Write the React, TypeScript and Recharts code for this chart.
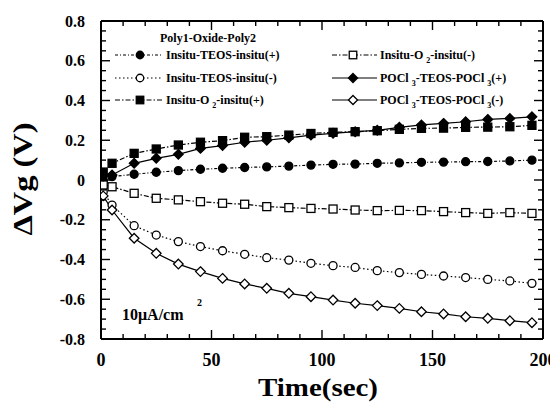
import React from 'react';
import { LineChart, Line, XAxis, YAxis, Legend } from 'recharts';

// ---- data ----
const timeSec = [1, 5, 15, 25, 35, 45, 55, 65, 75, 85, 95, 105, 115, 125, 135, 145, 155, 165, 175, 185, 195];
const insituTeosPlus = [0.0, 0.017, 0.029, 0.039, 0.047, 0.054, 0.059, 0.063, 0.066, 0.07, 0.075, 0.079, 0.08, 0.084, 0.086, 0.089, 0.09, 0.092, 0.093, 0.096, 0.1];
const insituTeosMinus = [-0.06, -0.126, -0.23, -0.277, -0.31, -0.335, -0.356, -0.374, -0.391, -0.403, -0.419, -0.431, -0.44, -0.456, -0.466, -0.475, -0.483, -0.491, -0.5, -0.508, -0.52];
const insituO2Plus = [0.04, 0.084, 0.134, 0.156, 0.176, 0.19, 0.198, 0.215, 0.218, 0.226, 0.234, 0.24, 0.243, 0.248, 0.255, 0.26, 0.261, 0.265, 0.266, 0.268, 0.275];
const insituO2Minus = [-0.025, -0.034, -0.067, -0.092, -0.1, -0.109, -0.117, -0.122, -0.134, -0.139, -0.143, -0.146, -0.151, -0.154, -0.153, -0.154, -0.159, -0.164, -0.168, -0.164, -0.168];
const pocl3Plus = [0.02, 0.025, 0.084, 0.109, 0.129, 0.159, 0.173, 0.19, 0.2, 0.212, 0.226, 0.235, 0.243, 0.25, 0.265, 0.277, 0.285, 0.293, 0.305, 0.31, 0.318];
const pocl3Minus = [-0.08, -0.151, -0.293, -0.369, -0.423, -0.461, -0.495, -0.523, -0.545, -0.57, -0.587, -0.604, -0.62, -0.632, -0.646, -0.663, -0.674, -0.688, -0.696, -0.708, -0.718];

const xTickValues = [0, 10, 20, 30, 40, 50, 60, 70, 80, 90, 100, 110, 120, 130, 140, 150, 160, 170, 180, 190, 200];
const xMajorTicks = [0, 50, 100, 150, 200];
const yTickValues = [-0.8, -0.75, -0.7, -0.65, -0.6, -0.55, -0.5, -0.45, -0.4, -0.35, -0.3, -0.25, -0.2, -0.15, -0.1, -0.05, 0, 0.05, 0.1, 0.15, 0.2, 0.25, 0.3, 0.35, 0.4, 0.45, 0.5, 0.55, 0.6, 0.65, 0.7, 0.75, 0.8];
const yMajorTicks = [-0.8, -0.6, -0.4, -0.2, 0, 0.2, 0.4, 0.6, 0.8];

const chartRows = timeSec.map((t, i) => ({
  t,
  teosPlus: insituTeosPlus[i],
  teosMinus: insituTeosMinus[i],
  o2Plus: insituO2Plus[i],
  o2Minus: insituO2Minus[i],
  pPlus: pocl3Plus[i],
  pMinus: pocl3Minus[i],
}));

const FONT = '"Liberation Serif", "Times New Roman", Times, serif';

type Shape = 'circle' | 'square' | 'diamond';

const Sub = ({ children }: { children: React.ReactNode }) => (
  <span style={{ fontSize: 8, position: 'relative', top: 4, marginLeft: 3 }}>{children}</span>
);

const SERIES: {
  key: string;
  label: React.ReactNode;
  shape: Shape;
  filled: boolean;
  dash?: string;
  col: number;
  row: number;
}[] = [
  { key: 'teosPlus', label: <>Insitu-TEOS-insitu(+)</>, shape: 'circle', filled: true, dash: '3 2 1 2', col: 0, row: 0 },
  { key: 'teosMinus', label: <>Insitu-TEOS-insitu(-)</>, shape: 'circle', filled: false, dash: '1.5 2.5', col: 0, row: 1 },
  { key: 'o2Plus', label: <>Insitu-O<Sub>2</Sub>-insitu(+)</>, shape: 'square', filled: true, dash: '5 2 1.5 2', col: 0, row: 2 },
  { key: 'o2Minus', label: <>Insitu-O<Sub>2</Sub>-insitu(-)</>, shape: 'square', filled: false, dash: '5 2 1.5 2', col: 1, row: 0 },
  { key: 'pPlus', label: <>POCl<Sub>3</Sub>-TEOS-POCl<Sub>3</Sub>(+)</>, shape: 'diamond', filled: true, col: 1, row: 1 },
  { key: 'pMinus', label: <>POCl<Sub>3</Sub>-TEOS-POCl<Sub>3</Sub>(-)</>, shape: 'diamond', filled: false, col: 1, row: 2 },
];

const MarkerShape = ({ cx, cy, shape, filled, size }: { cx: number; cy: number; shape: Shape; filled: boolean; size: number }) => {
  if (cx == null || cy == null || isNaN(cx) || isNaN(cy)) return null;
  const fill = filled ? '#000' : '#fff';
  const h = size / 2;
  if (shape === 'circle') return <circle cx={cx} cy={cy} r={h} fill={fill} stroke="#000" strokeWidth={1.3} />;
  if (shape === 'square') return <rect x={cx - h} y={cy - h} width={size} height={size} fill={fill} stroke="#000" strokeWidth={1.3} />;
  const d = h + 0.8;
  return <polygon points={`${cx},${cy - d} ${cx + d},${cy} ${cx},${cy + d} ${cx - d},${cy}`} fill={fill} stroke="#000" strokeWidth={1.3} />;
};

const COLS = [
  { lineX: 107, lineW: 47, markX: 25, textX: 158 },
  { lineX: 324, lineW: 45, markX: 21, textX: 372 },
];
const ROWS_Y = [47, 69.5, 92];

const LegendBox = () => (
  <div style={{ position: 'relative', width: 550, height: 401, fontFamily: FONT, fontWeight: 'bold', color: '#000' }}>
    <div style={{ position: 'absolute', left: 152, top: 22, height: 16, lineHeight: '16px', fontSize: 12, whiteSpace: 'nowrap' }}>
      Poly1-Oxide-Poly2
    </div>
    {SERIES.map((s) => {
      const c = COLS[s.col];
      const y = ROWS_Y[s.row];
      return (
        <React.Fragment key={s.key}>
          <svg style={{ position: 'absolute', left: c.lineX, top: y - 7 }} width={c.lineW} height={14}>
            <line x1={0} x2={c.lineW} y1={7} y2={7} stroke="#000" strokeWidth={1.2} strokeDasharray={s.dash} />
            <MarkerShape cx={c.markX} cy={7} shape={s.shape} filled={s.filled} size={7.5} />
          </svg>
          <div style={{ position: 'absolute', left: c.textX, top: y - 8, height: 16, lineHeight: '16px', fontSize: 12, whiteSpace: 'nowrap' }}>
            {s.label}
          </div>
        </React.Fragment>
      );
    })}
    <div style={{ position: 'absolute', left: 114, top: 297, height: 20, lineHeight: '20px', fontSize: 16, whiteSpace: 'nowrap' }}>
      10μA/cm
    </div>
    <div style={{ position: 'absolute', left: 189, top: 288, height: 14, lineHeight: '14px', fontSize: 10, whiteSpace: 'nowrap' }}>
      2
    </div>
  </div>
);

const TICK_STROKE = 1.4;

const XTick = (props: any) => {
  const { x, y, payload, side } = props;
  const v = payload.value;
  const major = xMajorTicks.includes(v);
  const len = major ? 9 : 5;
  const dir = side === 'bottom' ? -1 : 1;
  return (
    <g>
      <line x1={x} x2={x} y1={y} y2={y + dir * len} stroke="#000" strokeWidth={TICK_STROKE} />
      {side === 'bottom' && major && (
        <text x={x} y={y + 21} textAnchor="middle" dominantBaseline="central" fontFamily={FONT} fontWeight="bold" fontSize={18} fill="#000">
          {v}
        </text>
      )}
    </g>
  );
};

const YTick = (props: any) => {
  const { x, y, payload, side } = props;
  const v = payload.value;
  const major = yMajorTicks.some((m) => Math.abs(m - v) < 1e-6);
  const len = major ? 9 : 5;
  const dir = side === 'left' ? 1 : -1;
  return (
    <g>
      <line x1={x} x2={x + dir * len} y1={y} y2={y} stroke="#000" strokeWidth={TICK_STROKE} />
      {side === 'left' && major && (
        <text x={x - 16} y={y} textAnchor="end" dominantBaseline="central" fontFamily={FONT} fontWeight="bold" fontSize={16} fill="#000">
          {String(Math.round(v * 10) / 10)}
        </text>
      )}
    </g>
  );
};

const frame = { stroke: '#000', strokeWidth: 2 };

export default function App() {
  return (
    <LineChart width={550} height={401} data={chartRows} margin={{ top: 0, right: 0, bottom: 0, left: 0 }}>
      <XAxis
        xAxisId="b"
        dataKey="t"
        type="number"
        domain={[0, 200]}
        ticks={xTickValues}
        interval={0}
        height={70}
        tickSize={0}
        tickMargin={0}
        tickLine={false}
        axisLine={frame}
        allowDataOverflow
        tick={(p: any) => <XTick {...p} side="bottom" />}
        label={{
          content: (lp: any) => {
            const vb = lp.viewBox || { x: 93, y: 331, width: 442 };
            return (
              <text x={vb.x + vb.width / 2 - 4} y={vb.y + 48} textAnchor="middle" dominantBaseline="central" fontFamily={FONT} fontWeight="bold" fontSize={25} textLength={120} lengthAdjust="spacingAndGlyphs" fill="#000">
                Time(sec)
              </text>
            );
          },
        }}
      />
      <XAxis
        xAxisId="t"
        orientation="top"
        dataKey="t"
        type="number"
        domain={[0, 200]}
        ticks={xTickValues}
        interval={0}
        height={13}
        tickSize={0}
        tickMargin={0}
        tickLine={false}
        axisLine={frame}
        allowDataOverflow
        tick={(p: any) => <XTick {...p} side="top" />}
      />
      <YAxis
        yAxisId="l"
        type="number"
        domain={[-0.8, 0.8]}
        ticks={yTickValues}
        interval={0}
        width={93}
        tickSize={0}
        tickMargin={0}
        tickLine={false}
        axisLine={frame}
        allowDataOverflow
        tick={(p: any) => <YTick {...p} side="left" />}
        label={{
          content: (lp: any) => {
            const vb = lp.viewBox || { y: 13, height: 318 };
            const cy = vb.y + vb.height / 2 - 1;
            return (
              <text x={15} y={cy} transform={`rotate(-90, 15, ${cy})`} textAnchor="middle" dominantBaseline="central" fontFamily={FONT} fontWeight="bold" fontSize={27} textLength={113} lengthAdjust="spacingAndGlyphs" fill="#000">
                ΔVg  (V)
              </text>
            );
          },
        }}
      />
      <YAxis
        yAxisId="r"
        orientation="right"
        type="number"
        domain={[-0.8, 0.8]}
        ticks={yTickValues}
        interval={0}
        width={15}
        tickSize={0}
        tickMargin={0}
        tickLine={false}
        axisLine={frame}
        allowDataOverflow
        tick={(p: any) => <YTick {...p} side="right" />}
      />
      <Legend
        layout="horizontal"
        verticalAlign="middle"
        align="center"
        wrapperStyle={{ left: 0, top: 0, width: 550, height: 401, pointerEvents: 'none' }}
        content={() => <LegendBox />}
      />
      <Line
        xAxisId="t"
        yAxisId="r"
        dataKey="teosPlus"
        stroke="none"
        dot={false}
        activeDot={false}
        legendType="none"
        isAnimationActive={false}
      />
      {SERIES.map((s) => (
        <Line
          key={s.key}
          xAxisId="b"
          yAxisId="l"
          dataKey={s.key}
          type="linear"
          stroke="#000"
          strokeWidth={1.2}
          strokeDasharray={s.dash}
          isAnimationActive={false}
          activeDot={false}
          dot={(p: any) => (
            <MarkerShape key={`${s.key}-${p.index}`} cx={p.cx} cy={p.cy} shape={s.shape} filled={s.filled} size={8} />
          )}
        />
      ))}
    </LineChart>
  );
}
